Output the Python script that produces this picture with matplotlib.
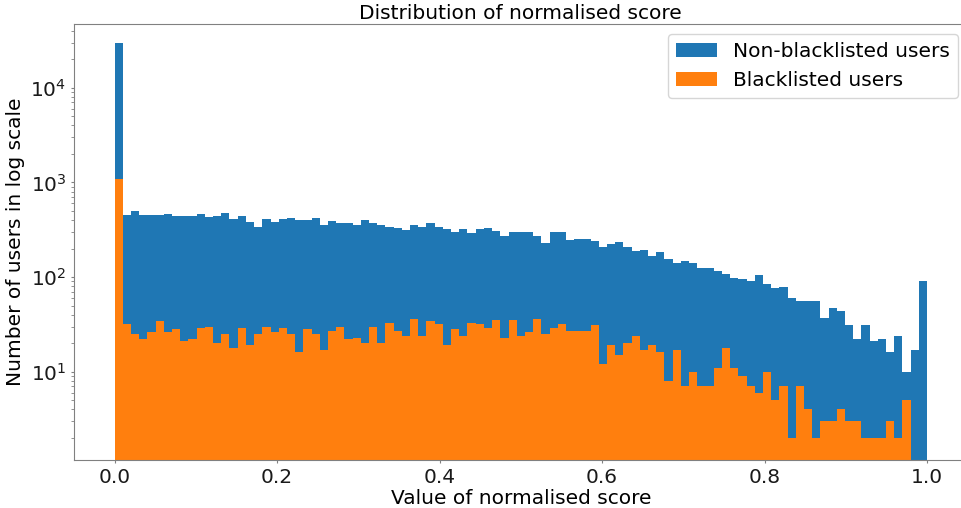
import numpy as np
import matplotlib
matplotlib.use('Agg')
import matplotlib.pyplot as plt

# 99 bins between 0 and 1, counts
bin_edges = np.linspace(0, 1, 100)

non_blacklisted = [29400, 452, 494, 452, 457, 452, 465, 440, 440, 446,
                   465, 433, 440, 478, 410, 440, 383, 342, 410, 383,
                   410, 419, 399, 399, 426, 354, 396, 371, 377, 351,
                   405, 369, 357, 342, 334, 311, 354, 342, 369, 342,
                   320, 300, 320, 293, 320, 331, 305, 272, 299, 297,
                   300, 272, 228, 296, 299, 244, 251, 255, 242, 207,
                   223, 235, 207, 190, 193, 167, 183, 156, 140, 149,
                   142, 124, 126, 116, 109, 98, 95, 91, 106, 84,
                   76, 78, 60, 56, 56, 56, 37, 47, 44, 31,
                   22, 31, 21, 22, 16, 24, 10, 17, 90]

blacklisted = [1090, 32, 25, 22, 26, 34, 26, 28, 21, 22,
               29, 30, 20, 25, 18, 29, 19, 25, 30, 26,
               29, 25, 16, 28, 25, 17, 27, 30, 22, 23,
               20, 30, 20, 33, 27, 24, 36, 24, 34, 32,
               19, 28, 24, 33, 32, 29, 35, 23, 35, 24,
               26, 36, 25, 29, 32, 27, 27, 27, 31, 12,
               19, 15, 20, 24, 17, 19, 16, 8, 17, 7,
               10, 7, 7, 11, 18, 11, 9, 7, 6, 10,
               5, 7, 2, 7, 4, 2, 3, 3, 4, 3,
               3, 2, 2, 2, 3, 2, 5, 0, 0]

centres = (bin_edges[:-1] + bin_edges[1:]) / 2

fs = 14.5
fig = plt.figure(figsize=(9.62, 5.08), dpi=100)
ax = fig.add_axes([0.0769, 0.0945, 0.929, 0.858])

ax.hist(centres, bins=bin_edges, weights=non_blacklisted, color='#1f77b4',
        label='Non-blacklisted users', log=True)
ax.hist(centres, bins=bin_edges, weights=blacklisted, color='#ff7f0e',
        label='Blacklisted users', log=True)

ax.set_xlim(-0.05, 1.05)
ax.set_ylim(1.17, 47000)
ax.set_xticks([0.0, 0.2, 0.4, 0.6, 0.8, 1.0])

ax.set_title('Distribution of normalised score', fontsize=fs, pad=4)
ax.set_xlabel('Value of normalised score', fontsize=fs, labelpad=2)
ax.set_ylabel('Number of users in log scale', fontsize=fs, labelpad=4)

for s in ax.spines.values():
    s.set_color('#808080')
ax.tick_params(axis='both', which='major', labelsize=fs, length=2,
               color='#808080', labelcolor='#1a1a1a')
ax.tick_params(axis='y', which='minor', length=2, color='#808080')

ax.legend(loc='upper right', fontsize=fs)

fig.savefig('out.png', dpi=100)
